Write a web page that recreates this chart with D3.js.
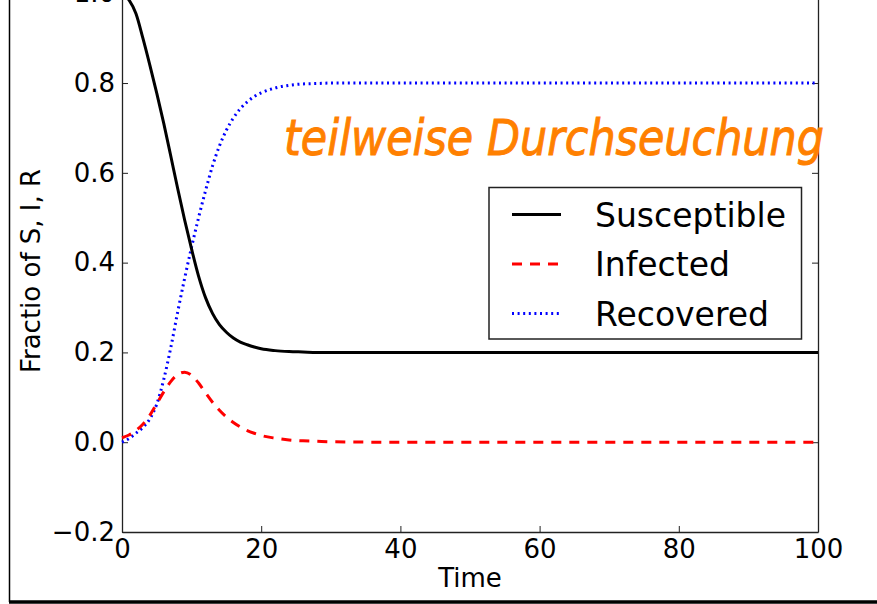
<!DOCTYPE html>
<html>
<head>
<meta charset="utf-8">
<script src="https://cdn.jsdelivr.net/npm/d3@7"></script>
<style>
  body { margin: 0; background: #fff; }
  svg { display: block; font-family: "DejaVu Sans", sans-serif; }
</style>
</head>
<body>
<svg id="chart" width="877" height="604"></svg>
<script>
// values
const time = [0,1,2,3,4,5,6,7,8,9,10,11,12,13,14,15,16,17,18,19,20,22,24,26,28,30,40,50,60,70,80,90,100];
const susceptible = [1.0,0.985,0.955,0.9,0.84,0.777,0.71,0.638,0.565,0.495,0.43,0.37,0.322,0.287,0.262,0.245,0.232,0.223,0.217,0.212,0.208,0.204,0.202,0.201,0.2,0.2,0.2,0.2,0.2,0.2,0.2,0.2,0.2];
const infected = [0.01,0.016,0.026,0.04,0.06,0.086,0.112,0.135,0.151,0.156,0.149,0.132,0.11,0.089,0.071,0.056,0.044,0.034,0.026,0.02,0.015,0.009,0.005,0.003,0.002,0.001,0,0,0,0,0,0,0];
const recovered = [0,0.008,0.02,0.033,0.052,0.085,0.14,0.21,0.29,0.365,0.435,0.5,0.56,0.615,0.66,0.695,0.722,0.743,0.758,0.77,0.778,0.789,0.795,0.798,0.799,0.8,0.8,0.8,0.8,0.8,0.8,0.8,0.8];
const xTicks = [0,20,40,60,80,100];
const yTicks = [-0.2,0,0.2,0.4,0.6,0.8,1.0];
const seriesNames = ["Susceptible","Infected","Recovered"];
const note = "teilweise Durchseuchung";

const svg = d3.select("#chart");

const x = d3.scaleLinear().domain([0,100]).range([122,818]);
const y = d3.scaleLinear().domain([-0.2,1.0]).range([532,-6.75]);

const fmt = d => d3.format(".1f")(d).replace("-", "\u2212");

// outer frame of the screenshot
svg.append("line").attr("x1",9.5).attr("x2",9.5).attr("y1",0).attr("y2",602)
  .attr("stroke","#000").attr("stroke-width",1.5);
svg.append("line").attr("x1",9).attr("x2",877).attr("y1",602).attr("y2",602)
  .attr("stroke","#000").attr("stroke-width",3.5);

// axes, ticks pointing inward like matplotlib
const styleAxis = g => {
  g.select(".domain").attr("stroke","#222").attr("stroke-width",1.3);
  g.selectAll(".tick line").attr("stroke","#222").attr("stroke-width",1);
  g.selectAll(".tick text").attr("fill","#000").style("font-size","26px")
    .style("font-family","DejaVu Sans");
};

svg.append("g").attr("transform","translate(0,532)")
  .call(d3.axisBottom(x).tickValues(xTicks).tickSize(-6).tickSizeOuter(0).tickPadding(7.5))
  .call(styleAxis);
svg.append("g").attr("transform","translate(0,-6.75)")
  .call(d3.axisTop(x).tickValues(xTicks).tickSize(-6).tickSizeOuter(0).tickFormat(""))
  .call(styleAxis);
svg.append("g").attr("transform","translate(122,0)")
  .call(d3.axisLeft(y).tickValues(yTicks).tickSize(-6).tickSizeOuter(0).tickPadding(7).tickFormat(fmt))
  .call(styleAxis);
svg.append("g").attr("transform","translate(818,0)")
  .call(d3.axisRight(y).tickValues(yTicks).tickSize(-6).tickSizeOuter(0).tickFormat(""))
  .call(styleAxis);

// axis titles
svg.append("text").attr("x",470).attr("y",587).attr("text-anchor","middle")
  .style("font-size","26px").text("Time");
svg.append("text").attr("transform","translate(40,271) rotate(-90)").attr("text-anchor","middle")
  .style("font-size","26px").text("Fractio of S, I, R");

// curves
const series = [
  {name: seriesNames[0], values: susceptible, color: "#000000", dash: null},
  {name: seriesNames[1], values: infected, color: "#ff0000", dash: "10,8"},
  {name: seriesNames[2], values: recovered, color: "#0000ff", dash: "2,3.6"}
];

const line = d3.line()
  .x(d => x(d[0]))
  .y(d => y(d[1]))
  .curve(d3.curveMonotoneX);

const plot = svg.append("g");
// draw recovered first, then infected, then susceptible on top
[series[2], series[1], series[0]].forEach(s => {
  plot.append("path")
    .datum(time.map((t,i) => [t, s.values[i]]))
    .attr("d", line)
    .attr("fill","none")
    .attr("stroke", s.color)
    .attr("stroke-width", 3)
    .attr("stroke-dasharray", s.dash);
});

// legend
const legend = svg.append("g");
legend.append("rect").attr("x",489).attr("y",187.5).attr("width",312.5).attr("height",151.5)
  .attr("fill","#fff").attr("stroke","#222").attr("stroke-width",1.5);
series.forEach((s,i) => {
  const ly = 214.5 + i*49.5;
  legend.append("line").attr("x1",512).attr("x2",561).attr("y1",ly).attr("y2",ly)
    .attr("stroke", s.color).attr("stroke-width",3).attr("stroke-dasharray", s.dash);
  legend.append("text").attr("x",595).attr("y",ly+12).style("font-size","33px").text(s.name);
});

// handwritten note
svg.append("text").attr("x",284).attr("y",155)
  .attr("textLength",540).attr("lengthAdjust","spacingAndGlyphs")
  .style("font-size","50px").style("font-style","italic")
  .attr("fill","#ff8000").attr("stroke","#ff8000").attr("stroke-width",1)
  .text(note);
</script>
</body>
</html>
